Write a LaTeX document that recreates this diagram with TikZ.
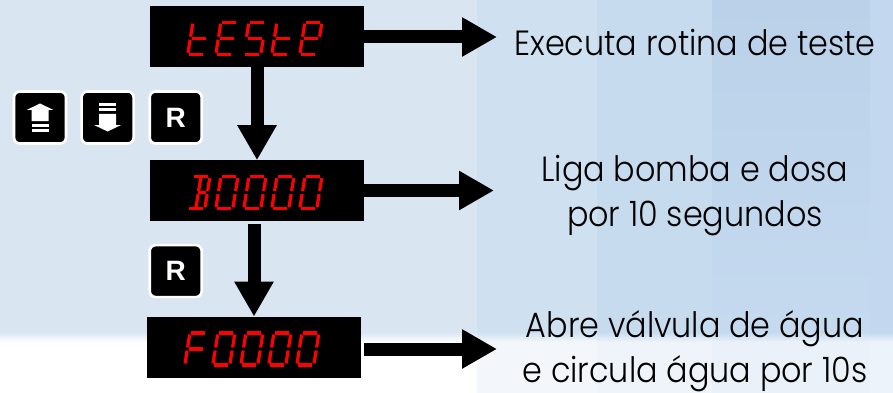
\documentclass[tikz,border=0pt]{standalone}
\usepackage{fontspec}
\setmainfont{Poppins}[UprightFont=* Light,FakeStretch=0.91]
\setsansfont{Liberation Sans}
\usetikzlibrary{positioning,arrows.meta}

\definecolor{bgleft}{HTML}{D9E5F1}
\definecolor{bgb}{HTML}{CFE0F1}
\definecolor{bgc}{HTML}{C7DBEF}
\definecolor{bgd}{HTML}{BAD1E9}
\definecolor{bgdlow}{HTML}{C5DAEF}
\definecolor{bge}{HTML}{C3D8EE}

\tikzset{
    dispbox/.style={fill=black, minimum width=214pt, minimum height=61pt, inner sep=0pt},
    keybox/.style={fill=black, draw=white, line width=2.6pt, rounded corners=6pt, minimum size=52pt, inner sep=0pt, text=white, font=\sffamily\bfseries\fontsize{28}{28}\selectfont},
    segline/.style={color={rgb,255:red,255;green,0;blue,0}, line width=3.2pt},
    flow/.style={line width=13pt, -{Triangle[length=35pt,width=37pt]}},
    caption/.style={align=center, inner sep=0pt, font=\fontsize{35}{45}\selectfont},
}

% segments of one digit
\newcommand{\sega}{(1.5,32)--(15.5,32)}
\newcommand{\segb}{(17,30.5)--(17,17.5)}
\newcommand{\segc}{(17,14.5)--(17,1.5)}
\newcommand{\segd}{(1.5,0)--(15.5,0)}
\newcommand{\sege}{(0,1.5)--(0,14.5)}
\newcommand{\segf}{(0,17.5)--(0,30.5)}
\newcommand{\segg}{(1.5,16)--(15.5,16)}
\newcommand{\segh}{(8,17.5)--(8,30.5)}
\newcommand{\segi}{(8,1.5)--(8,14.5)}
\newcommand{\segj}{(8,16)--(15.5,16)}

\newcommand{\dispdigits}[2]{
    \foreach \dig [count=\i from 0] in {#2} {
        \begin{scope}[shift={(#1.south west)}, xshift={(38+28*\i)*1pt}, yshift=13pt, xslant=0.16]
            \foreach \s in \dig {\draw[segline] \csname seg\s\endcsname;}
        \end{scope}
    }
}

% arrow with two bars on a key
\newcommand{\keyarrow}[2]{
    \begin{scope}[shift={(#1.center)}, yscale=#2]
        \fill[white] (0,14) -- (13.5,7.5) -- (8.5,7.5) -- (8.5,-3.5) -- (-8.5,-3.5) -- (-8.5,7.5) -- (-13.5,7.5) -- cycle;
        \fill[white] (-8.5,-6) rectangle (8.5,-9);
        \fill[white] (-8.5,-11) rectangle (8.5,-14);
    \end{scope}
}

\begin{document}
\begin{tikzpicture}[x=1pt, y=1pt]
    \useasboundingbox (0,0) rectangle (893,-393);

    % background
    \fill[white] (0,0) rectangle (893,-393);
    \foreach \xa/\xb/\col/\mid/\low in {0/477/bgleft/bgleft/white, 477/597/bgb/bgb/bgb!25!white, 597/712/bgc/bgc/bgc!30!white, 712/870/bgd/bgdlow/bgd!30!white, 870/893/bge/bge/bge!30!white} {
        \fill[top color=\col, bottom color=\mid] (\xa,0) rectangle (\xb,-332);
        \fill[top color=\mid, bottom color=\low] (\xa,-332) rectangle (\xb,-342);
        \fill[\low] (\xa,-342) rectangle (\xb,-393);
    }

    % displays
    \node[dispbox] (dispteste) at (257,-36.5) {};
    \node[dispbox, below=93pt of dispteste] (dispbomba) {};
    \node[dispbox, below=95pt of dispbomba, xshift=-3pt] (dispagua) {};

    \dispdigits{dispteste}{{d,e,f,g},{a,d,e,f,g},{a,c,d,f,g},{d,e,f,g},{a,b,d,e,f,g}}
    \dispdigits{dispbomba}{{a,b,c,d,j,h,i},{a,b,c,d,e,f},{a,b,c,d,e,f},{a,b,c,d,e,f},{a,b,c,d,e,f}}
    \dispdigits{dispagua}{{a,e,f,g},{a,b,c,d,e,f},{a,b,c,d,e,f},{a,b,c,d,e,f},{a,b,c,d,e,f}}

    % keys
    \node[keybox] (keyup) at (40,-117.5) {};
    \node[keybox, right=13pt of keyup] (keydown) {};
    \node[keybox, right=13.5pt of keydown] (keyr) {R};
    \node[keybox, below=99pt of keyr] (keyrb) {R};
    \keyarrow{keyup}{1}
    \keyarrow{keydown}{-1}

    % captions
    \node[caption] (capteste) at (695,-42) {Executa rotina de teste};
    \node[caption] (capbomba) at (695,-195.5) {Liga bomba e dosa\\por 10 segundos};
    \node[caption] (capagua) at (695,-351) {Abre válvula de água\\e circula água por 10s};

    % free ends of the arrows
    \coordinate (endteste) at (497,-37);
    \coordinate (endbomba) at (494,-190.5);
    \coordinate (endagua) at (497,-349);

    \draw[flow] (dispteste.south) -- (dispbomba.north);
    \draw[flow, shorten <=2pt] (dispagua.north |- dispbomba.south) -- (dispagua.north);
    \draw[flow] (dispteste.east |- endteste) -- (endteste);
    \draw[flow] (dispbomba.east |- endbomba) -- (endbomba);
    \draw[flow, shorten <=3pt] (dispagua.east |- endagua) -- (endagua);
\end{tikzpicture}
\end{document}
